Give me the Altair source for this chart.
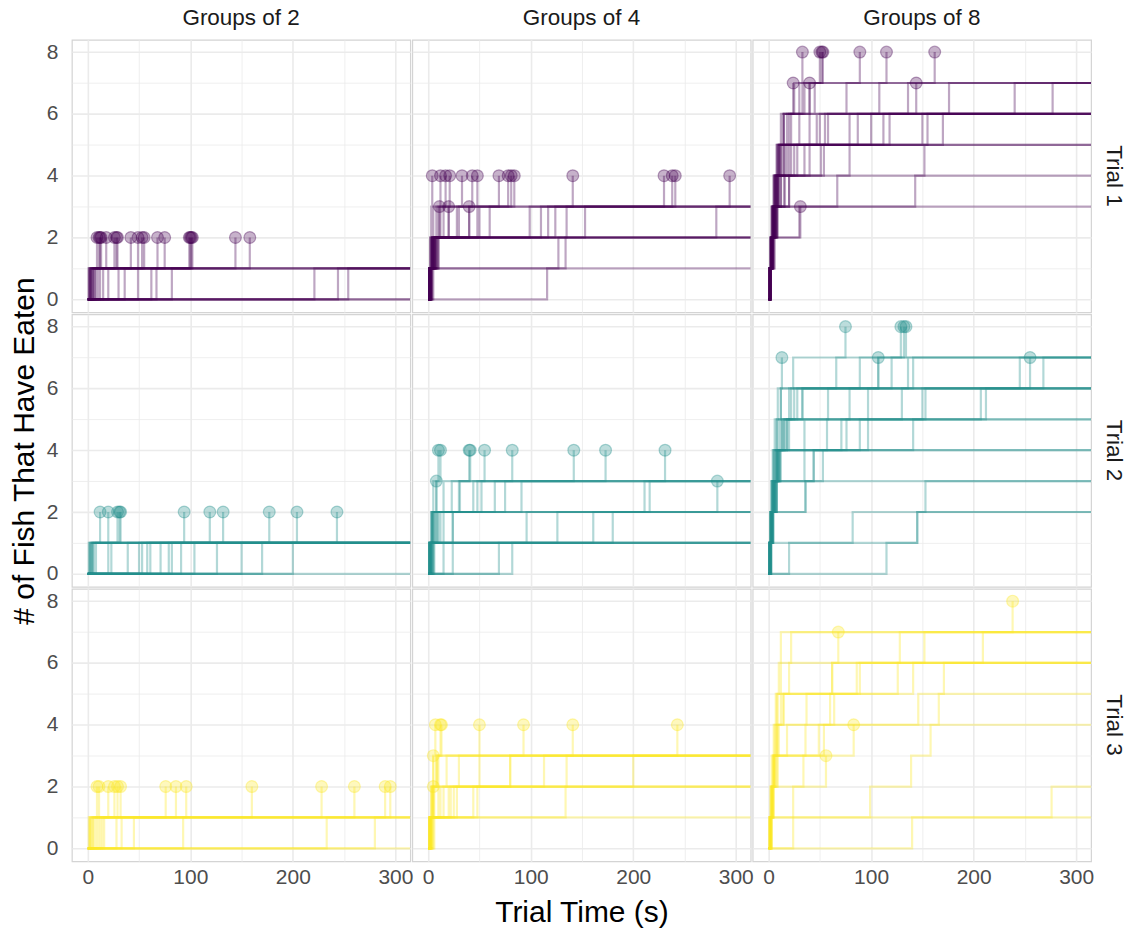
import altair as alt
import pandas as pd

# ---- data: per panel, each group = cumulative times (s) at which 1st, 2nd, ... fish ate
# DONE groups end with a point at their last event; OPEN groups run on to the end of the trial
G2_T1_DONE = [[2, 9], [3, 11], [1, 12], [4, 13], [5, 18], [6, 26], [8, 28], [3, 29], [10, 42], [36, 49],
              [7, 53], [12, 55], [15, 68], [49, 75], [20, 99], [5, 100], [62, 101], [67, 102], [30, 144], [82, 158]]
G2_T1_OPEN = [[1], [2], [3], [221], [244], [254], [], []]

G2_T2_DONE = [[3, 12], [5, 20], [2, 29], [8, 31], [4, 32], [23, 94], [39, 119], [50, 132], [58, 177], [91, 204], [104, 243]]
G2_T2_OPEN = [[1], [2], [4], [6], [20], [53], [61], [71], [79], [82], [126], [150], [170], [200], []]

G2_T3_DONE = [[2, 9], [3, 11], [5, 20], [4, 26], [8, 29], [12, 32], [28, 76], [33, 86], [6, 96], [45, 160],
              [10, 228], [14, 260], [16, 290], [93, 295]]
G2_T3_OPEN = [[1], [2], [233], [280], []]

G4_T1_DONE = [[1, 2, 3, 4], [1, 3, 8, 12], [2, 4, 10, 17], [1, 5, 12, 21], [2, 6, 20, 33], [3, 8, 28, 43],
              [2, 5, 15, 48], [1, 4, 30, 69], [3, 7, 40, 78], [2, 6, 50, 81], [1, 3, 60, 84], [4, 10, 48, 141],
              [2, 5, 124, 230], [3, 9, 135, 238], [1, 6, 153, 241], [2, 8, 110, 294], [1, 4, 11], [2, 6, 20], [3, 10, 40]]
G4_T1_OPEN = [[1, 2, 5], [2, 4, 99], [3, 7, 117], [1, 4, 281], [1, 4], [2, 7], [5, 127], [3, 134], [116]]

G4_T2_DONE = [[1, 3, 5, 10], [2, 4, 8, 12], [3, 24, 31, 40], [2, 6, 30, 41], [1, 5, 44, 55], [4, 15, 48, 82],
              [3, 10, 52, 142], [5, 12, 65, 173], [2, 8, 75, 231], [1, 4, 8], [6, 96, 282]]
G4_T2_OPEN = [[2, 7, 15], [3, 9, 23], [1, 4, 91], [5, 126, 211], [3, 161, 216], [1, 3], [2, 5], [4, 180],
              [15, 24], [1], [2], [24], [69], [82]]

G4_T3_DONE = [[1, 3, 5, 7], [2, 4, 8, 12], [1, 5, 9, 13], [3, 10, 30, 50], [2, 15, 80, 93], [4, 20, 113, 141],
              [3, 25, 135, 243], [1, 3, 5], [2, 5]]
G4_T3_OPEN = [[1, 4, 8], [2, 6, 10], [3, 12, 18], [2, 22, 50], [5, 28, 200], [4, 44, 80], [1, 5], [2, 48],
              [3, 134], [6]]

G8_T1_DONE = [[1, 2, 3, 5, 8, 12, 25, 33], [1, 2, 4, 6, 9, 15, 30, 50], [2, 3, 4, 7, 10, 20, 35, 52],
              [1, 3, 5, 8, 12, 18, 40, 53], [2, 4, 6, 9, 14, 47, 76, 89], [1, 3, 6, 10, 16, 55, 108, 115],
              [2, 3, 5, 8, 20, 58, 136, 162], [1, 2, 4, 6, 10, 15, 24], [1, 3, 5, 7, 12, 22, 40],
              [2, 4, 7, 20, 51, 100, 144], [2, 5, 31]]
G8_T1_OPEN = [[1, 2, 3, 5, 8, 14, 33], [1, 3, 4, 6, 10, 30, 45], [2, 3, 5, 9, 15, 79, 176],
              [1, 4, 6, 12, 25, 87, 240], [2, 4, 8, 15, 35, 112, 277], [1, 2, 4, 7, 11, 40], [2, 3, 5, 8, 18, 50],
              [1, 3, 6, 9, 22, 118], [2, 4, 7, 12, 54, 150], [1, 3, 8, 20, 79, 155], [2, 5, 9, 16, 40, 170],
              [1, 3, 6, 10, 28], [2, 4, 7, 67, 152], [1, 4, 8, 143], [2, 6, 30]]

G8_T2_DONE = [[1, 2, 3, 5, 8, 12, 66, 75], [2, 3, 5, 8, 12, 20, 89, 129], [1, 3, 6, 9, 15, 33, 107, 132],
              [2, 4, 7, 11, 18, 58, 120, 134], [1, 2, 3, 4, 6, 9, 13], [2, 4, 6, 10, 20, 79, 107],
              [1, 3, 5, 8, 35, 130, 255]]
G8_T2_OPEN = [[1, 2, 4, 6, 10, 22, 24], [1, 3, 5, 7, 14, 25, 136], [2, 3, 6, 9, 16, 28, 141],
              [1, 2, 4, 7, 13, 153, 245], [2, 4, 8, 11, 57, 207, 268], [1, 2, 3, 5, 8, 12], [1, 3, 6, 9, 18, 33],
              [2, 4, 7, 12, 71, 212], [1, 3, 5, 35, 76, 97], [2, 4, 8, 44, 89, 150], [1, 2, 4, 8, 141],
              [2, 5, 36, 53, 97], [1, 3, 5, 10], [2, 4, 8, 44], [1, 2, 36], [3, 145, 153], [20, 82], [115, 145]]

G8_T3_DONE = [[2, 3, 4, 6, 8, 12, 152, 238], [1, 3, 5, 7, 9, 62, 68], [2, 5, 34, 83], [3, 24, 56]]
G8_T3_OPEN = [[1, 2, 3, 5, 7, 10, 12], [2, 3, 5, 8, 12, 20, 22], [1, 4, 6, 9, 14, 126, 128],
              [2, 4, 7, 49, 60, 86, 209], [1, 3, 5, 8, 15, 62], [2, 4, 6, 10, 37, 89], [1, 2, 5, 36, 64, 141],
              [3, 5, 9, 54, 146, 171], [2, 4, 8, 18, 166], [3, 99, 139, 158], [24, 276], [140]]

SIZES = ["Groups of 2", "Groups of 4", "Groups of 8"]
TRIALS = ["Trial 1", "Trial 2", "Trial 3"]
COLORS = ["#440154", "#21908C", "#FDE725"]
T_END = 314.5

PANELS = {
    ("Groups of 2", "Trial 1"): (G2_T1_DONE, G2_T1_OPEN),
    ("Groups of 2", "Trial 2"): (G2_T2_DONE, G2_T2_OPEN),
    ("Groups of 2", "Trial 3"): (G2_T3_DONE, G2_T3_OPEN),
    ("Groups of 4", "Trial 1"): (G4_T1_DONE, G4_T1_OPEN),
    ("Groups of 4", "Trial 2"): (G4_T2_DONE, G4_T2_OPEN),
    ("Groups of 4", "Trial 3"): (G4_T3_DONE, G4_T3_OPEN),
    ("Groups of 8", "Trial 1"): (G8_T1_DONE, G8_T1_OPEN),
    ("Groups of 8", "Trial 2"): (G8_T2_DONE, G8_T2_OPEN),
    ("Groups of 8", "Trial 3"): (G8_T3_DONE, G8_T3_OPEN),
}

rows = []
gid = 0
for (size, trial), (done, opened) in PANELS.items():
    for flag, groups in (("done", done), ("open", opened)):
        for times in groups:
            gid += 1
            seq = [(0, 0)] + [(t, i + 1) for i, t in enumerate(times)]
            if flag == "open":
                seq.append((T_END, len(times)))
            for k, (t, n) in enumerate(seq):
                rows.append(dict(size=size, trial=trial, gid=gid, step=k, t=t, n=n, kind="line"))
            if flag == "done":
                rows.append(dict(size=size, trial=trial, gid=gid, step=0, t=times[-1], n=len(times), kind="pt"))
df = pd.DataFrame(rows)

FONT = "Liberation Sans"
xgrid = {"condition": {"test": "datum.value % 100 === 0", "value": 1.6}, "value": 0.8}
ygrid = {"condition": {"test": "datum.value % 2 === 0", "value": 1.6}, "value": 0.8}

x = alt.X("t:Q", title=None,
          scale=alt.Scale(domain=[-15.5, T_END], nice=False, zero=False),
          axis=alt.Axis(values=[0, 50, 100, 150, 200, 250, 300],
                        labelExpr="datum.value % 100 === 0 ? datum.label : ''",
                        gridWidth=xgrid, labelPadding=4))
y = alt.Y("n:Q", title=None,
          scale=alt.Scale(domain=[-0.42, 8.4], nice=False, zero=False),
          axis=alt.Axis(values=[0, 1, 2, 3, 4, 5, 6, 7, 8],
                        labelExpr="datum.value % 2 === 0 ? datum.label : ''",
                        gridWidth=ygrid, labelPadding=13))
color = alt.Color("trial:N", scale=alt.Scale(domain=TRIALS, range=COLORS), legend=None)

base = alt.Chart().properties(width=339, height=273)
lines = base.transform_filter("datum.kind == 'line'").mark_line(
    interpolate="step-after", strokeWidth=2.2, opacity=0.35, clip=True
).encode(x=x, y=y, color=color, detail="gid:N", order="step:Q")
pts = base.transform_filter("datum.kind == 'pt'").mark_circle(
    size=140, fillOpacity=0.3, strokeOpacity=0.35, strokeWidth=1.2
).encode(x=x, y=y, color=color,
         stroke=alt.Stroke("trial:N", scale=alt.Scale(domain=TRIALS, range=COLORS), legend=None))

chart = alt.layer(lines, pts, data=df).facet(
    column=alt.Column("size:N", sort=SIZES, title="Trial Time (s)",
                      header=alt.Header(labelFontSize=22.5, labelColor="#1a1a1a", labelPadding=9,
                                        labelFont=FONT, labelOrient="top",
                                        titleOrient="bottom", titleFont=FONT, titleFontSize=30,
                                        titleFontWeight="normal", titleColor="#000000", titlePadding=1)),
    row=alt.Row("trial:N", sort=TRIALS, title="# of Fish That Have Eaten",
                header=alt.Header(labelFontSize=22.5, labelColor="#1a1a1a", labelOrient="right",
                                  labelAngle=90, labelPadding=10, labelFont=FONT,
                                  titleOrient="left", titleFont=FONT, titleFontSize=30,
                                  titleFontWeight="normal", titleColor="#000000", titlePadding=-4)),
    spacing={"row": 0, "column": 0},
).configure_view(
    stroke="#d4d4d4", strokeWidth=1.2
).configure_axis(
    domain=False, ticks=False, gridColor="#ebebeb",
    labelFont=FONT, labelFontSize=21, labelColor="#4d4d4d",
).properties(
    padding={"left": 9, "top": 6, "right": 5, "bottom": 5}, background="white"
)

chart.save("out.html", embed_options={"renderer": "svg", "actions": False})
